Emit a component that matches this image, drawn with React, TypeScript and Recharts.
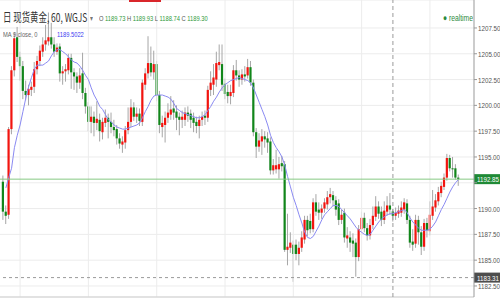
import React from 'react';
import { ComposedChart, Bar, Line, XAxis, YAxis, CartesianGrid, ReferenceLine } from 'recharts';

// 60-minute candles
const opens = [
  1192.6, 1189.7, 1189.4, 1197.7, 1203.4, 1206.6, 1204.7, 1203.8, 1201.4, 1201.0,
  1201.5, 1201.8, 1203.5, 1204.3, 1205.2, 1205.9, 1206.2, 1206.6, 1205.9, 1205.2,
  1205.7, 1203.1, 1203.3, 1203.4, 1204.6, 1203.2, 1202.8, 1202.2, 1203.1, 1201.2,
  1199.9, 1198.4, 1198.9, 1198.3, 1198.6, 1197.4, 1198.3, 1198.8, 1198.4, 1197.9,
  1197.7, 1196.8, 1196.2, 1196.4, 1197.6, 1198.4, 1199.8, 1198.9, 1199.2, 1198.4,
  1202.0, 1203.1, 1204.1, 1203.2, 1204.0, 1201.0, 1197.9, 1198.1, 1198.8, 1199.1,
  1199.7, 1199.4, 1198.9, 1198.6, 1198.6, 1199.3, 1199.2, 1198.8, 1198.4, 1198.0,
  1198.6, 1199.0, 1198.8, 1201.5, 1202.0, 1202.5, 1203.9, 1204.0, 1202.1, 1201.3,
  1200.9, 1201.2, 1203.4, 1202.9, 1202.5, 1203.0, 1202.9, 1203.7, 1202.2, 1197.4,
  1196.0, 1196.5, 1197.0, 1196.8, 1196.5, 1193.7, 1193.8, 1193.8, 1194.4, 1194.3,
  1186.0, 1186.2, 1186.5, 1186.5, 1185.6, 1186.2, 1187.0, 1188.9, 1188.8, 1188.0,
  1190.6, 1189.9, 1189.6, 1190.0, 1190.4, 1191.1, 1191.3, 1190.8, 1190.5, 1188.9,
  1189.6, 1187.1, 1187.2, 1186.9, 1186.7, 1185.3, 1188.0, 1189.1, 1188.1, 1187.4,
  1188.4, 1189.2, 1190.2, 1189.7, 1188.9, 1189.7, 1190.3, 1189.73, 1189.3, 1189.5,
  1189.6, 1189.9, 1190.5, 1188.9, 1186.8, 1186.6, 1188.9, 1187.7, 1186.3, 1188.6,
  1187.8, 1189.3, 1190.1, 1190.7, 1191.5, 1192.1, 1193.0, 1194.9, 1193.9, 1193.9,
  1193.0,
];
const highs = [
  1193.2, 1190.3, 1197.9, 1203.8, 1207.1, 1207.6, 1205.2, 1204.3, 1202.4, 1202.0,
  1202.3, 1204.2, 1204.8, 1205.8, 1206.6, 1207.8, 1209.0, 1208.0, 1206.6, 1206.0,
  1206.0, 1203.8, 1204.0, 1205.0, 1205.0, 1203.6, 1203.2, 1203.6, 1205.1, 1201.7,
  1200.3, 1199.9, 1199.4, 1200.4, 1199.2, 1198.8, 1199.6, 1199.2, 1199.3, 1198.6,
  1198.1, 1197.3, 1197.0, 1198.0, 1199.8, 1200.6, 1200.3, 1199.8, 1199.7, 1202.5,
  1203.6, 1206.7, 1205.7, 1205.3, 1204.3, 1201.4, 1199.0, 1199.4, 1200.2, 1200.9,
  1200.5, 1200.0, 1199.3, 1199.5, 1199.8, 1199.9, 1199.6, 1199.3, 1198.9, 1199.0,
  1199.4, 1199.5, 1201.9, 1203.3, 1204.0, 1205.2, 1205.9, 1205.9, 1202.6, 1202.0,
  1202.0, 1203.9, 1204.4, 1203.4, 1203.5, 1203.8, 1204.5, 1204.3, 1202.5, 1197.8,
  1197.3, 1197.7, 1197.5, 1197.4, 1196.9, 1194.8, 1195.7, 1195.0, 1195.1, 1194.6,
  1189.5, 1187.7, 1186.9, 1187.0, 1186.8, 1187.8, 1189.3, 1189.3, 1189.5, 1191.0,
  1191.4, 1190.6, 1190.4, 1191.0, 1191.7, 1192.0, 1191.7, 1191.2, 1190.9, 1189.9,
  1190.0, 1188.2, 1187.8, 1187.6, 1187.1, 1188.4, 1189.7, 1189.6, 1188.6, 1189.0,
  1190.2, 1191.2, 1190.7, 1190.2, 1190.7, 1191.2, 1191.5, 1189.93, 1190.1, 1190.3,
  1190.7, 1191.0, 1190.9, 1189.3, 1188.0, 1189.4, 1189.3, 1188.3, 1189.0, 1189.1,
  1190.7, 1191.8, 1191.4, 1192.1, 1192.6, 1193.4, 1195.3, 1195.2, 1195.0, 1194.3,
  1193.3,
];
const lows = [
  1188.9, 1188.5, 1189.0, 1197.2, 1202.8, 1204.2, 1202.4, 1200.6, 1200.5, 1200.0,
  1200.9, 1201.2, 1203.0, 1203.8, 1204.7, 1205.3, 1205.8, 1205.5, 1204.7, 1204.9,
  1202.3, 1202.0, 1202.3, 1203.0, 1201.6, 1201.5, 1201.2, 1201.6, 1200.6, 1199.2,
  1197.5, 1197.3, 1197.0, 1197.6, 1196.5, 1196.7, 1197.9, 1196.8, 1197.3, 1197.0,
  1196.2, 1195.8, 1195.4, 1195.8, 1197.2, 1197.9, 1198.5, 1198.3, 1198.0, 1198.0,
  1201.5, 1202.6, 1202.8, 1202.5, 1200.4, 1197.3, 1196.9, 1196.4, 1198.3, 1198.6,
  1198.6, 1197.6, 1197.1, 1197.8, 1198.0, 1198.4, 1197.8, 1197.4, 1197.3, 1196.8,
  1198.0, 1198.1, 1198.4, 1200.9, 1201.0, 1201.8, 1203.4, 1201.4, 1200.6, 1200.2,
  1200.1, 1200.8, 1202.4, 1201.8, 1202.0, 1202.3, 1202.6, 1201.9, 1197.0, 1194.9,
  1195.5, 1195.2, 1195.9, 1195.4, 1193.3, 1193.3, 1193.4, 1192.9, 1193.6, 1185.8,
  1184.5, 1185.7, 1182.9, 1185.0, 1184.5, 1185.8, 1186.6, 1187.3, 1187.6, 1187.7,
  1189.3, 1188.9, 1189.0, 1189.6, 1189.9, 1190.5, 1190.2, 1189.3, 1188.4, 1188.5,
  1186.7, 1186.2, 1185.8, 1185.3, 1183.4, 1184.9, 1187.6, 1187.7, 1186.9, 1187.0,
  1188.0, 1188.8, 1189.0, 1188.3, 1188.5, 1189.3, 1189.4, 1188.74, 1188.9, 1189.1,
  1189.2, 1189.5, 1188.5, 1186.2, 1185.9, 1186.2, 1186.5, 1185.5, 1185.9, 1187.2,
  1187.4, 1188.9, 1189.7, 1190.3, 1191.1, 1191.8, 1192.7, 1193.6, 1193.0, 1192.8,
  1192.2,
];
const closes = [
  1189.7, 1189.3, 1197.7, 1203.4, 1206.5, 1204.7, 1203.8, 1201.4, 1201.0, 1201.6,
  1201.8, 1203.5, 1204.3, 1205.3, 1205.9, 1206.3, 1206.6, 1205.9, 1205.2, 1205.6,
  1203.1, 1203.3, 1203.5, 1204.6, 1203.2, 1202.8, 1202.2, 1202.9, 1201.2, 1199.9,
  1198.4, 1198.9, 1198.3, 1198.7, 1197.5, 1198.4, 1198.8, 1198.4, 1197.9, 1197.6,
  1196.8, 1196.3, 1196.5, 1197.6, 1198.4, 1199.8, 1198.9, 1199.2, 1198.5, 1202.2,
  1203.1, 1204.1, 1203.2, 1204.0, 1201.0, 1198.1, 1198.3, 1198.8, 1199.3, 1199.6,
  1199.3, 1198.8, 1198.6, 1198.9, 1199.3, 1199.0, 1198.6, 1198.3, 1198.0, 1198.6,
  1198.9, 1198.8, 1201.5, 1202.2, 1202.7, 1204.1, 1204.2, 1202.0, 1201.1, 1200.9,
  1201.3, 1203.4, 1202.9, 1202.5, 1203.0, 1202.8, 1203.7, 1202.2, 1197.4, 1196.0,
  1196.6, 1197.0, 1196.7, 1196.4, 1193.7, 1194.2, 1194.2, 1194.3, 1194.1, 1186.0,
  1186.3, 1186.7, 1185.6, 1185.6, 1186.2, 1187.2, 1188.9, 1187.9, 1188.0, 1190.6,
  1189.7, 1189.6, 1190.0, 1190.6, 1191.1, 1191.4, 1190.8, 1189.9, 1188.9, 1189.4,
  1187.2, 1187.4, 1186.7, 1186.6, 1185.3, 1188.0, 1189.1, 1188.1, 1187.4, 1188.4,
  1189.3, 1190.2, 1189.5, 1188.9, 1189.8, 1190.3, 1189.9, 1189.3, 1189.6, 1189.8,
  1190.1, 1190.6, 1188.9, 1186.7, 1186.5, 1188.9, 1187.7, 1186.3, 1188.6, 1187.9,
  1189.4, 1190.2, 1190.8, 1191.6, 1192.2, 1193.0, 1194.9, 1193.9, 1193.8, 1193.0,
  1192.85,
];
// MA 9 close, as drawn
const maValues = [
  null, 1192.0, 1193.0, 1193.9, 1195.9, 1197.1, 1198.1, 1199.4, 1200.7, 1201.8,
  1202.7, 1203.5, 1203.9, 1203.9, 1203.9, 1204.1, 1204.3, 1204.8, 1205.2, 1205.4,
  1205.4, 1205.2, 1205.0, 1204.7, 1204.4, 1204.2, 1204.1, 1203.8, 1203.4, 1202.9,
  1202.5, 1201.7, 1201.0, 1200.5, 1199.9, 1199.6, 1199.1, 1198.6, 1198.4, 1198.1,
  1197.9, 1197.8, 1197.7, 1197.7, 1197.8, 1197.9, 1198.0, 1198.1, 1198.3, 1198.8,
  1199.4, 1199.9, 1200.5, 1200.9, 1201.0, 1201.0, 1201.0, 1200.9, 1200.8, 1200.6,
  1200.2, 1199.7, 1199.5, 1199.3, 1199.2, 1199.1, 1199.0, 1198.9, 1198.8, 1198.8,
  1198.9, 1199.1, 1199.5, 1199.9, 1200.4, 1200.8, 1201.3, 1201.7, 1202.0, 1202.2,
  1202.4, 1202.5, 1202.6, 1202.7, 1202.6, 1202.5, 1202.4, 1202.2, 1201.7, 1201.0,
  1200.3, 1199.6, 1198.9, 1198.1, 1197.1, 1196.4, 1195.9, 1195.5, 1195.0, 1194.2,
  1193.1, 1192.1, 1191.1, 1190.3, 1189.4, 1188.6, 1187.7, 1187.2, 1187.1, 1187.3,
  1187.8, 1188.3, 1188.9, 1189.4, 1189.7, 1190.0, 1190.3, 1190.3, 1190.2, 1189.9,
  1189.6, 1189.3, 1189.0, 1188.6, 1188.2, 1187.9, 1187.7, 1187.5, 1187.4, 1187.5,
  1187.9, 1188.3, 1188.7, 1189.0, 1189.2, 1189.4, 1189.5, 1189.5, 1189.6, 1189.7,
  1189.8, 1189.9, 1189.6, 1189.1, 1188.7, 1188.4, 1188.1, 1187.9, 1187.9, 1187.9,
  1188.0, 1188.3, 1188.7, 1189.3, 1189.9, 1190.4, 1191.0, 1191.6, 1192.1, 1192.5,
  1192.8,
];

const priceTicks = [1182.5, 1185, 1187.5, 1190, 1192.5, 1195, 1197.5, 1200, 1202.5, 1205, 1207.5];
const priceDomain = [1181.43, 1210.21];
const dayStarts = [6, 30, 54, 78, 102, 126, 150];
const crossBar = 137;
const crossPrice = 1183.31;
const lastPrice = 1192.85;

const rows = closes.map((c, i) => ({
  t: i,
  o: opens[i],
  h: highs[i],
  l: lows[i],
  c,
  ma: maValues[i],
}));

const UP = '#f2140f';
const DOWN = '#11861a';
const WICK = '#a6a6a6';
const LATIN = '"Liberation Sans", Arial, sans-serif';

function Candle(props: any) {
  const { x, y, width, height, payload } = props;
  if (!payload || height == null) return null;
  const top = Math.min(y, y + height);
  const span = Math.abs(height);
  const k = payload.h === payload.l ? 0 : span / (payload.h - payload.l);
  const cx = x + width / 2;
  const bodyTop = top + (payload.h - Math.max(payload.o, payload.c)) * k;
  const bodyH = Math.max(1, Math.abs(payload.o - payload.c) * k);
  return (
    <g>
      <line x1={cx} x2={cx} y1={top} y2={top + span} stroke={WICK} strokeWidth={1} />
      <rect x={cx - 1.1} y={bodyTop} width={2.2} height={bodyH} fill={payload.c >= payload.o ? UP : DOWN} />
    </g>
  );
}

function PriceTick(props: any) {
  const { x, y, payload } = props;
  // the last-price tag sits on top of this one
  if (Math.abs(payload.value - lastPrice) < 1) return null;
  return (
    <text
      transform={`translate(${x - 1}, ${y + 3}) scale(0.78, 1)`}
      fontSize={8}
      fontFamily={LATIN}
      fill="#555"
    >
      {Number(payload.value).toFixed(2)}
    </text>
  );
}

const priceTag = (value: number, fill: string) => (props: any) => {
  const vb = props.viewBox || {};
  const right = (vb.x || 0) + (vb.width || 0);
  const cy = vb.y || 0;
  return (
    <g>
      <rect x={right} y={cy - 5} width={26} height={10} fill={fill} />
      <text
        transform={`translate(${right + 3}, ${cy + 3}) scale(0.78, 1)`}
        fontSize={8}
        fontFamily={LATIN}
        fill="#fff"
      >
        {value.toFixed(2)}
      </text>
    </g>
  );
};

const squeeze = (left: number, top: number): React.CSSProperties => ({
  position: 'absolute',
  left,
  top,
  transform: 'scaleX(0.72)',
  transformOrigin: 'left top',
  whiteSpace: 'nowrap',
  fontFamily: LATIN,
  lineHeight: 1,
});

export default function App() {
  return (
    <div style={{ position: 'absolute', left: 0, top: 0, width: 500, height: 300, background: '#fff', overflow: 'hidden' }}>
      <ComposedChart width={500} height={300} data={rows} margin={{ top: 0, right: 0, bottom: 3, left: 0 }}>
        <CartesianGrid vertical={false} stroke="#ececec" />
        <XAxis dataKey="t" hide padding={{ left: 1.6, right: 14.2 }} />
        <YAxis
          orientation="right"
          type="number"
          width={26}
          domain={priceDomain}
          ticks={priceTicks}
          interval={0}
          allowDataOverflow
          tickSize={3}
          axisLine={{ stroke: '#999' }}
          tickLine={{ stroke: '#999' }}
          tick={(p: any) => <PriceTick {...p} />}
        />
        {dayStarts.map((d) => (
          <ReferenceLine key={d} x={d} stroke="#ececec" />
        ))}
        <ReferenceLine y={priceDomain[0]} stroke="#cfcfcf" />
        <ReferenceLine x={crossBar} stroke="#9a9a9a" strokeDasharray="4 3" />
        <Bar dataKey={(d: any) => [d.l, d.h]} shape={(p: any) => <Candle {...p} />} isAnimationActive={false} />
        <Line
          dataKey="ma"
          type="linear"
          stroke="#8a8af2"
          strokeWidth={1}
          dot={false}
          activeDot={false}
          isAnimationActive={false}
        />
        <ReferenceLine y={lastPrice} stroke="#86c983" label={priceTag(lastPrice, '#1f8a36')} />
        <ReferenceLine y={crossPrice} stroke="#9a9a9a" strokeDasharray="3 3" label={priceTag(crossPrice, '#4d4d4d')} />
      </ComposedChart>

      <div style={{ position: 'absolute', left: 129, top: 0, width: 32, height: 2, background: '#d9262b' }} />

      <div style={{ ...squeeze(3, 11), transform: 'scaleX(0.7)', fontSize: 12, color: '#333', fontFamily: '"Noto Sans CJK SC", ' + LATIN }}>
        日 现货黄金, 60, WGJS
      </div>
      <div style={{ ...squeeze(90, 15), fontSize: 8, color: '#777' }}>▾</div>
      <div style={{ ...squeeze(99, 15), fontSize: 8, color: '#555' }}>
        O <span style={{ color: '#2e9a3a' }}>1189.73</span> H <span style={{ color: '#2e9a3a' }}>1189.93</span> L{' '}
        <span style={{ color: '#2e9a3a' }}>1188.74</span> C <span style={{ color: '#2e9a3a' }}>1189.30</span>
      </div>
      <div style={{ ...squeeze(3, 31), fontSize: 8, color: '#666' }}>MA 9 close, 0</div>
      <div style={{ ...squeeze(57, 31), fontSize: 8, color: '#3b3bf0' }}>1189.5022</div>
      <div style={{ ...squeeze(443, 14), transform: 'scaleX(0.75)', fontSize: 9, color: '#2c8a3c' }}>● realtime</div>
    </div>
  );
}
